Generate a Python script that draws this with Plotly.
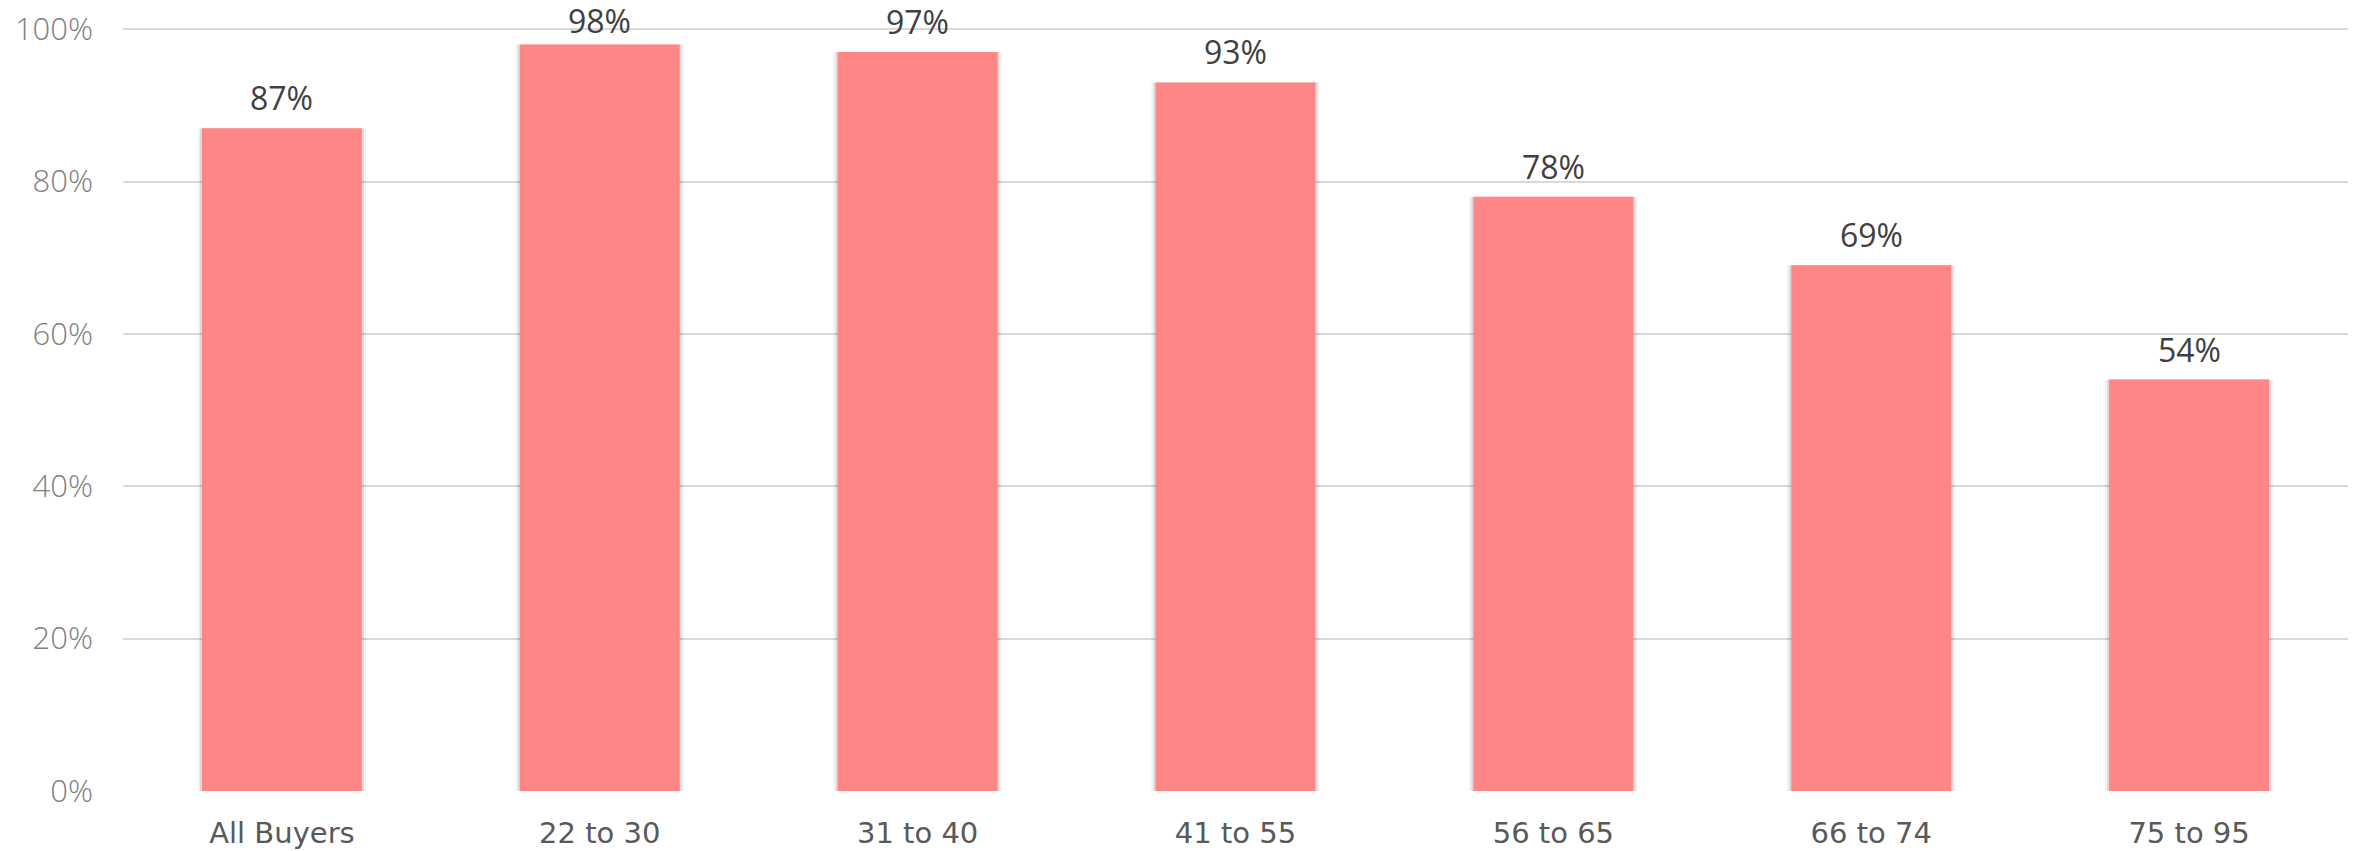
import plotly.graph_objects as go

categories = ["All Buyers", "22 to 30", "31 to 40", "41 to 55", "56 to 65", "66 to 74", "75 to 95"]
values = [87, 98, 97, 93, 78, 69, 54]
tick_vals = [0, 20, 40, 60, 80, 100]
tick_text = ["0%", "20%", "40%", "60%", "80%", "100%"]

FONT = "Open Sans, sans-serif"
BAR_COLOR = "#FF8686"

Y_MAX = 100.15
MARGIN_T = 20
MARGIN_B = 60
FIG_H = 843
PLOT_H = FIG_H - MARGIN_T - MARGIN_B

fig = go.Figure()

# soft shadow behind the bars (two layers for a blur-like edge)
fig.add_trace(go.Bar(
    x=categories, y=values, width=0.53,
    marker=dict(color="rgba(0,0,0,0.05)", line=dict(width=0)),
    hoverinfo="skip", showlegend=False,
))
fig.add_trace(go.Bar(
    x=categories, y=values, width=0.516,
    marker=dict(color="rgba(0,0,0,0.10)", line=dict(width=0)),
    hoverinfo="skip", showlegend=False,
))
fig.add_trace(go.Bar(
    x=categories, y=values, width=0.503,
    marker=dict(color=BAR_COLOR, line=dict(width=0)),
    showlegend=False,
))

for c, v in zip(categories, values):
    # keep the label inside the figure (like the original, which squeezes the top ones)
    bar_top_px = (Y_MAX - v) / Y_MAX * PLOT_H + MARGIN_T
    shift = min(7, bar_top_px - 35.5)
    fig.add_annotation(
        x=c, y=v, text=f"{v}%", showarrow=False,
        yanchor="bottom", yshift=shift,
        font=dict(family=FONT, size=32, color="#404040"),
    )

# page body has an 8px default margin, compensated here
fig.update_layout(
    width=2356, height=FIG_H,
    margin=dict(l=115, r=16, t=MARGIN_T, b=MARGIN_B),
    paper_bgcolor="white", plot_bgcolor="white",
    barmode="overlay",
    xaxis=dict(
        showgrid=False, showline=False, zeroline=False, ticks="",
        tickfont=dict(family="DejaVu Sans, sans-serif", size=29, color="#595959"),
        ticklabelstandoff=22, automargin=False,
    ),
    yaxis=dict(
        range=[0, Y_MAX], tickvals=tick_vals, ticktext=tick_text,
        showgrid=True, gridcolor="#D9D9D9", gridwidth=1.5,
        zeroline=False, showline=False, ticks="",
        tickfont=dict(family=FONT, size=31, color="#808080", weight=300),
        ticklabelstandoff=29, automargin=False, ticklabeloverflow="allow",
    ),
)

fig.write_html("out.html")
